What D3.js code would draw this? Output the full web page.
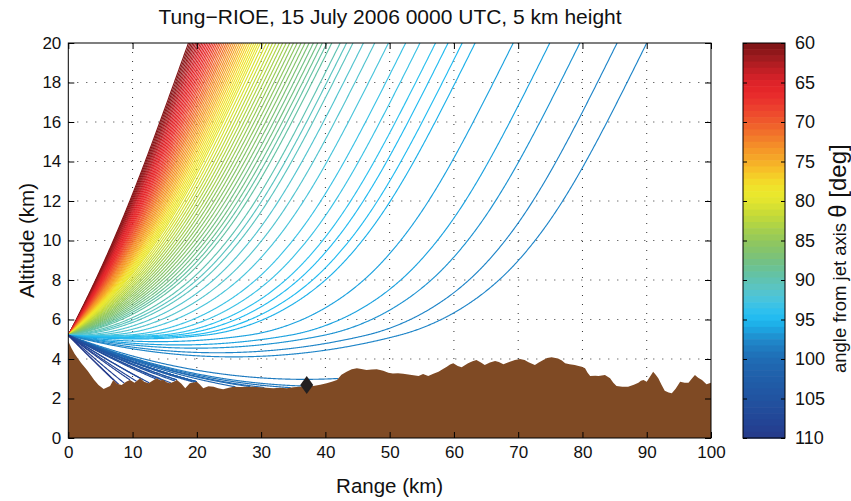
<!DOCTYPE html>
<html><head><meta charset="utf-8">
<script src="https://cdn.jsdelivr.net/npm/d3@7"></script>
<style>body{margin:0;background:#fff}</style>
</head><body>
<svg id="chart" width="851" height="501"></svg>
<script>
// ---------------- data ----------------
const titleText = "Tung\u2212RIOE, 15 July 2006 0000 UTC, 5 km height";
const launchRange = 0;
const launchAlt = 5.2;

// rays that leave the top of the plot (angle from jet axis, range where they reach 20 km)
const exitAngles = [60,60.5,61,61.5,62,62.5,63,63.5,64,64.5,65,65.5,66,66.5,67,67.5,68,68.5,69,69.5,
  70,70.5,71,71.5,72,72.5,73,73.5,74,74.5,75,75.5,76,76.5,77,77.5,78,78.5,79,79.5,
  80,80.5,81,81.5,82,82.5,83,83.5,84,84.5,85,85.5,86,86.5,87,87.5,88,88.5,89,89.5,
  90,90.5,91,91.5,92,92.5,93,93.5,94,94.5,95,95.5,96,96.5,97,97.5,98];
const exitRanges = [18.70,18.92,19.14,19.37,19.60,19.83,20.07,20.30,20.55,20.79,21.04,21.29,21.54,21.80,22.06,22.32,22.59,22.86,23.13,23.41,
  23.68,23.97,24.25,24.54,24.83,25.12,25.42,25.72,26.02,26.33,26.64,26.95,27.26,27.58,27.90,28.23,28.56,28.89,29.22,29.56,
  29.90,30.35,30.82,31.30,31.80,32.30,32.82,33.35,33.90,34.46,35.03,35.62,36.22,36.84,37.48,38.14,38.82,39.52,40.25,41.0,
  42.3,43.3,44.3,45.9,47.7,49.8,52.5,54.7,57.1,59.1,61.3,63.3,69.2,74.9,79.6,85.4,90.0];

// rays that end on the terrain (angle, range where they hit the ground)
const groundAngles = [98.5,99,99.5,100,100.5,101,101.5,102,102.5,103,103.5,104,104.5,105,105.5,106,106.5,107,107.5,108,108.5,109,109.5,110];
const groundRanges = [42.0,37.5,34.6,30.5,28.3,26.0,24.4,23.0,21.8,20.7,19.6,18.6,17.6,16.6,15.6,14.6,13.6,12.6,11.6,10.6,9.6,8.7,7.8,7.0];

// terrain profile (range km, height km)
const terrainRange = [0,0.5,1,2,3,4,4.7,5.5,6.5,7,7.6,8.3,9,9.6,10.3,11.2,11.8,12.5,13.1,13.75,14.3,14.8,15.3,15.8,16.4,16.9,17.6,18.2,18.9,20,20.5,21,21.8,22.6,23.3,24.1,25,25.7,26.7,27.8,28.8,29.8,30.8,31.9,33,34,35,36,37,38.1,39.2,40.2,41,41.8,42.5,43.3,44.1,44.9,45.6,46.4,47.2,48,49,49.8,50.5,51.3,52.1,52.9,53.7,54.5,55.2,56,56.8,57.6,58.3,58.9,59.4,59.9,60.6,61.2,61.7,62.2,62.9,63.5,64.2,64.8,65.6,66.4,67,67.7,68.2,68.7,69.5,70.3,71,71.6,72.6,73.2,73.9,74.5,75.2,76.2,76.8,77.3,78,78.8,79.4,79.9,80.4,80.8,81.2,82,82.5,83.5,84.3,84.8,85.3,86.2,87.1,88,88.7,89.1,89.5,90,90.5,91,91.4,91.8,92.3,92.8,93.4,93.9,94.5,95.2,95.9,96.5,97,97.5,98,98.6,99.3,100];
const terrainHeight = [4.9,4.55,4.25,3.8,3.4,2.95,2.68,2.48,2.63,2.94,2.75,2.68,2.85,2.94,2.8,3.02,2.85,2.77,2.9,3.02,2.92,2.94,2.82,2.77,2.85,2.94,2.75,2.52,2.77,2.85,2.7,2.52,2.62,2.6,2.52,2.47,2.55,2.6,2.58,2.6,2.6,2.57,2.55,2.52,2.55,2.52,2.57,2.6,2.62,2.63,2.7,2.77,2.85,2.94,3.2,3.36,3.48,3.53,3.5,3.44,3.47,3.48,3.4,3.3,3.27,3.28,3.25,3.22,3.18,3.14,3.24,3.14,3.25,3.36,3.5,3.61,3.72,3.78,3.65,3.58,3.68,3.78,3.88,3.95,3.82,3.7,3.82,3.9,3.85,3.73,3.8,3.86,3.95,4.0,3.95,3.83,3.7,3.82,3.95,4.05,4.09,4.03,3.92,3.78,3.74,3.7,3.64,3.61,3.53,3.3,3.14,3.15,3.14,3.19,3.02,2.8,2.63,2.6,2.6,2.7,2.8,2.9,2.94,2.85,3.1,3.36,3.2,3.02,2.7,2.39,2.3,2.26,2.5,2.85,2.8,2.8,3.0,3.19,3.05,2.94,2.72,2.8];

// marker (diamond)
const markerRange = [37.1];
const markerAlt = [2.68];

// refraction profile used to trace the rays (altitude km, ray invariant term)
const profileAlt = [0,5.2,6,7,8,9,10,12,14,16,18,20,22];
const profileG   = [-0.0343,0,0.018,0.045,0.08,0.125,0.165,0.26,0.34,0.39,0.415,0.425,0.43];

// ticks
const xTicks = [0,10,20,30,40,50,60,70,80,90,100];
const yTicks = [0,2,4,6,8,10,12,14,16,18,20];
const cbTicks = [60,65,70,75,80,85,90,95,100,105,110];

// colour map (angle -> colour)
const cmapAngles = [60,61,62,63,64,65,66,67,68,69,70,71,72,73,74,75,76,77,78,79,80,81,82,83,84,85,86,87,88,89,90,91,92,93,94,95,96,97,98,99,100,101,102,103,104,105,106,107,108,109,110];
const cmapColors = ["#7b1416","#8c1619","#a11b1f","#b81e23","#cc2027","#dd2329","#e52629","#e9302d","#ec3d2e","#ee4b2d",
  "#ef5b2c","#f06a2b","#f27c2a","#f48e29","#f59f28","#f6ad28","#f7bf28","#f5d128","#f1e02a","#ebe72c",
  "#e2e52e","#d2df33","#c2d93a","#b1d444","#a0cd50","#93c85c","#87c468","#7cc278","#70c18a","#66c29e",
  "#5fc3b2","#5ac4c3","#4fc4d5","#40c3e3","#2ec0ee","#1fbaf0","#1da9e4","#1e95d4","#1f83c6","#1f77bd",
  "#1f6db5","#1f66b0","#2061ab","#205ca7","#2158a4","#2154a1","#224f9d","#224999","#234495","#243f90","#253a8a"];

// ---------------- layout ----------------
const font = "'Liberation Sans', Arial, Helvetica, sans-serif";
const L = 68.3, R = 711, T = 43, B = 438;
const CBL = 743, CBR = 785;
const svg = d3.select("#chart");
svg.append("rect").attr("width", 851).attr("height", 501).attr("fill", "#fff");

const xs = d3.scaleLinear().domain([0, 100]).range([L, R]);
const ys = d3.scaleLinear().domain([0, 20]).range([B, T]);
const cmap = d3.scaleLinear().domain(cmapAngles).range(cmapColors).clamp(true);
const nBands = 64;
const bandOf = a => Math.min(nBands - 1, Math.max(0, Math.floor((a - 60) / 50 * nBands)));
const bandColor = i => cmap(60 + (i + 0.5) * 50 / nBands);

// ---------------- ray tracing ----------------
const terrainAt = d3.scaleLinear().domain(terrainRange).range(terrainHeight).clamp(true);
const gSlopes = profileAlt.slice(0, -1).map((z, i) => (profileG[i + 1] - profileG[i]) / (profileAlt[i + 1] - profileAlt[i]));
function accel(z) {
  for (let i = 0; i < gSlopes.length; i++) if (z < profileAlt[i + 1]) return gSlopes[i] / 2;
  return gSlopes[gSlopes.length - 1] / 2;
}
function trace(s0, keep) {
  const dx = 0.05;
  let x = launchRange, z = launchAlt, s = s0;
  const pts = keep ? [[x, z]] : null;
  while (x < 101) {
    const a = accel(z);
    const zn = z + s * dx + 0.5 * a * dx * dx;
    const sn = s + 0.5 * (a + accel(zn)) * dx;
    const xn = x + dx;
    if (zn >= 20) {
      const t = (20 - z) / (zn - z);
      if (keep) pts.push([x + t * dx, 20]);
      return { type: "top", x: x + t * dx, pts };
    }
    const tn = terrainAt(xn);
    if (zn <= tn) {
      const f0 = z - terrainAt(x), f1 = zn - tn;
      const t = f0 / (f0 - f1);
      if (keep) pts.push([x + t * dx, z + t * (zn - z)]);
      return { type: "ground", x: x + t * dx, pts };
    }
    x = xn; z = zn; s = sn;
    if (keep) pts.push([x, z]);
  }
  return { type: "out", x: Infinity, pts };
}
function solveExit(target) {
  let lo = -0.3, hi = 2.5;
  for (let k = 0; k < 40; k++) {
    const mid = (lo + hi) / 2;
    const r = trace(mid, false);
    const xe = r.type === "top" ? r.x : 1e9;
    if (xe > target) lo = mid; else hi = mid;
  }
  return trace((lo + hi) / 2, true).pts;
}
function solveGround(target) {
  let lo = -1.5, hi = -0.05;
  for (let k = 0; k < 40; k++) {
    const mid = (lo + hi) / 2;
    const r = trace(mid, false);
    const xe = r.type === "ground" ? r.x : 1e9;
    if (xe > target) hi = mid; else lo = mid;
  }
  return trace((lo + hi) / 2, true).pts;
}

const rays = [];
exitAngles.forEach((a, i) => rays.push({ angle: a, pts: solveExit(exitRanges[i]) }));
groundAngles.forEach((a, i) => rays.push({ angle: a, pts: solveGround(groundRanges[i]) }));

// ---------------- drawing ----------------
svg.append("defs").append("clipPath").attr("id", "plotclip")
  .append("rect").attr("x", L).attr("y", T).attr("width", R - L).attr("height", B - T);

// grid
const grid = svg.append("g").attr("stroke", "#333").attr("stroke-width", 1).attr("stroke-dasharray", "1,8");
xTicks.slice(1, -1).forEach(v => grid.append("line").attr("x1", xs(v)).attr("x2", xs(v)).attr("y1", T).attr("y2", B));
yTicks.slice(1, -1).forEach(v => grid.append("line").attr("x1", L).attr("x2", R).attr("y1", ys(v)).attr("y2", ys(v)));

// rays
const line = d3.line().x(d => xs(d[0])).y(d => ys(d[1]));
svg.append("g").attr("clip-path", "url(#plotclip)")
  .selectAll("path").data(rays).join("path")
  .attr("d", d => line(d.pts.filter((p, i) => i % 2 === 0 || i === d.pts.length - 1)))
  .attr("fill", "none")
  .attr("stroke", d => bandColor(bandOf(d.angle)))
  .attr("stroke-width", 1.15);

// terrain
const terr = terrainRange.map((x, i) => [x, terrainHeight[i]]);
svg.append("path")
  .attr("d", d3.area().x(d => xs(d[0])).y0(ys(0)).y1(d => ys(d[1]))(terr))
  .attr("fill", "#7f4a24");

// diamond marker
svg.append("g").selectAll("path").data(markerRange.map((r, i) => [r, markerAlt[i]])).join("path")
  .attr("d", d => { const cx = xs(d[0]), cy = ys(d[1]);
    return `M${cx},${cy - 9}L${cx + 6.5},${cy}L${cx},${cy + 9}L${cx - 6.5},${cy}Z`; })
  .attr("fill", "#231f20");

// axes
function styleAxis(g, size) {
  g.attr("font-family", font).attr("font-size", size);
  g.select(".domain").remove();
  g.selectAll(".tick line").attr("stroke", "#000");
  g.selectAll(".tick text").attr("fill", "#111");
}
svg.append("g").attr("transform", `translate(0,${B})`)
  .call(d3.axisBottom(xs).tickValues(xTicks).tickSize(-6).tickPadding(8).tickFormat(d3.format("d")))
  .call(g => styleAxis(g, 17));
svg.append("g").attr("transform", `translate(0,${T})`)
  .call(d3.axisTop(xs).tickValues(xTicks).tickSize(-6).tickFormat(""))
  .call(g => styleAxis(g, 17));
svg.append("g").attr("transform", `translate(${L},0)`)
  .call(d3.axisLeft(ys).tickValues(yTicks).tickSize(-6).tickPadding(7).tickFormat(d3.format("d")))
  .call(g => styleAxis(g, 17));
svg.append("g").attr("transform", `translate(${R},0)`)
  .call(d3.axisRight(ys).tickValues(yTicks).tickSize(-6).tickFormat(""))
  .call(g => styleAxis(g, 17));
svg.append("rect").attr("x", L).attr("y", T).attr("width", R - L).attr("height", B - T)
  .attr("fill", "none").attr("stroke", "#000").attr("stroke-width", 1);

// colour bar
const cbs = d3.scaleLinear().domain([60, 110]).range([T, B]);
svg.append("g").selectAll("rect").data(d3.range(nBands)).join("rect")
  .attr("x", CBL).attr("width", CBR - CBL)
  .attr("y", i => cbs(60 + i * 50 / nBands))
  .attr("height", i => cbs(60 + (i + 1) * 50 / nBands) - cbs(60 + i * 50 / nBands) + 0.6)
  .attr("fill", i => bandColor(i));
svg.append("g").attr("transform", `translate(${CBR},0)`)
  .call(d3.axisRight(cbs).tickValues(cbTicks).tickSize(-4).tickPadding(10).tickFormat(d3.format("d")))
  .call(g => styleAxis(g, 18));
svg.append("g").attr("transform", `translate(${CBL},0)`)
  .call(d3.axisLeft(cbs).tickValues(cbTicks).tickSize(-4).tickFormat(""))
  .call(g => styleAxis(g, 18));
svg.append("rect").attr("x", CBL).attr("y", T).attr("width", CBR - CBL).attr("height", B - T)
  .attr("fill", "none").attr("stroke", "#000").attr("stroke-width", 1);

// texts
svg.append("text").attr("x", 390).attr("y", 23.5).attr("text-anchor", "middle")
  .attr("font-family", font).attr("font-size", 21).attr("fill", "#111").text(titleText);
svg.append("text").attr("x", (L + R) / 2).attr("y", 493).attr("text-anchor", "middle")
  .attr("font-family", font).attr("font-size", 20.5).attr("fill", "#111").text("Range (km)");
svg.append("text").attr("transform", `translate(34,${(T + B) / 2}) rotate(-90)`).attr("text-anchor", "middle")
  .attr("font-family", font).attr("font-size", 20.5).attr("fill", "#111").text("Altitude (km)");
const cbl = svg.append("text").attr("transform", "translate(846,373) rotate(-90)")
  .attr("font-family", font).attr("fill", "#111");
cbl.append("tspan").attr("font-size", 18.5).text("angle from jet axis ");
cbl.append("tspan").attr("font-size", 24).text("\u03b8 [deg]");
</script>
</body></html>
